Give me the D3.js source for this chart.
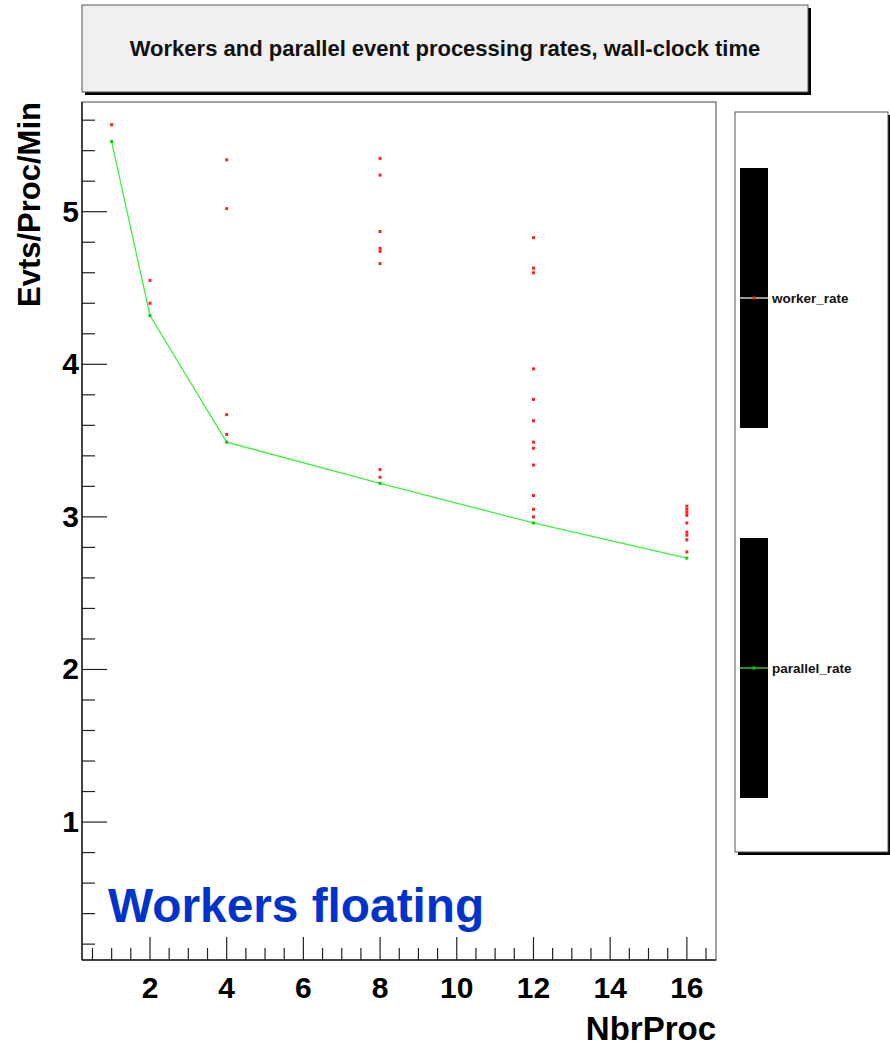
<!DOCTYPE html>
<html>
<head>
<meta charset="utf-8">
<script src="https://cdn.jsdelivr.net/npm/d3@7"></script>
<style>
  body { margin: 0; background: #fff; font-family: "Liberation Sans", Arial, sans-serif; }
</style>
</head>
<body>
<div id="chart"></div>
<script>
'use strict';

// worker rates (red dots) per number of processes
const workerProcs = [1, 2, 2, 4, 4, 4, 4,
    8, 8, 8, 8, 8, 8, 8, 8,
    12, 12, 12, 12, 12, 12, 12, 12, 12, 12, 12, 12,
    16, 16, 16, 16, 16, 16, 16, 16, 16];
const workerRates = [5.57, 4.55, 4.40, 5.34, 5.02, 3.67, 3.54,
    5.35, 5.24, 4.87, 4.76, 4.74, 4.66, 3.31, 3.26,
    4.83, 4.63, 4.60, 3.97, 3.77, 3.63, 3.49, 3.45, 3.34, 3.14, 3.05, 3.00,
    3.07, 3.05, 3.03, 3.01, 2.96, 2.90, 2.88, 2.85, 2.77];

// parallel rate (green line)
const parallelProcs = [1, 2, 4, 8, 12, 16];
const parallelRates = [5.46, 4.32, 3.49, 3.22, 2.96, 2.73];

const xTicks = [2, 4, 6, 8, 10, 12, 14, 16];
const yTicks = [1, 2, 3, 4, 5];
const legendLabels = ["worker_rate", "parallel_rate"];

const width = 890, height = 1048;
const margin = { top: 102, right: 174, bottom: 88, left: 82 };

const svg = d3.select("#chart").append("svg")
    .attr("width", width)
    .attr("height", height);

const x = d3.scaleLinear()
    .domain([0.227, 16.76])
    .range([margin.left, width - margin.right]);

const y = d3.scaleLinear()
    .domain([0.096, 5.719])
    .range([height - margin.bottom, margin.top]);

const plotL = margin.left, plotR = width - margin.right;
const plotT = margin.top, plotB = height - margin.bottom;

// title box with shadow
svg.append("rect").attr("x", 85).attr("y", 8).attr("width", 726).attr("height", 87).attr("fill", "#000");
svg.append("rect").attr("x", 82).attr("y", 5).attr("width", 726).attr("height", 87)
    .attr("fill", "#f0f0f0").attr("stroke", "#555").attr("stroke-width", 1);
svg.append("text")
    .attr("x", 445).attr("y", 56)
    .attr("text-anchor", "middle")
    .attr("font-size", 22).attr("font-weight", "bold")
    .attr("fill", "#111")
    .text("Workers and parallel event processing rates, wall-clock time");

// plot frame
svg.append("rect")
    .attr("x", plotL).attr("y", plotT)
    .attr("width", plotR - plotL).attr("height", plotB - plotT)
    .attr("fill", "none").attr("stroke", "#666").attr("stroke-width", 1.2);

// y ticks (major every 1, minor every 0.2)
const yMinor = d3.range(0.2, 5.7, 0.2).filter(v => y(v) >= plotT && y(v) <= plotB);
svg.append("g").selectAll("line")
    .data(yMinor)
    .join("line")
    .attr("x1", plotL)
    .attr("x2", d => plotL + (Math.abs(d - Math.round(d)) < 0.01 ? 25 : 13))
    .attr("y1", d => y(d)).attr("y2", d => y(d))
    .attr("stroke", "#222").attr("stroke-width", 1.2);

// x ticks (major every 2, minor every 0.5)
const xMinor = d3.range(0.5, 16.6, 0.5);
svg.append("g").selectAll("line")
    .data(xMinor)
    .join("line")
    .attr("x1", d => x(d)).attr("x2", d => x(d))
    .attr("y1", plotB)
    .attr("y2", d => plotB - (Math.abs(d / 2 - Math.round(d / 2)) < 0.01 ? 23 : 12))
    .attr("stroke", "#222").attr("stroke-width", 1.2);

// axis lines
svg.append("line").attr("x1", plotL).attr("x2", plotL).attr("y1", plotT).attr("y2", plotB)
    .attr("stroke", "#222").attr("stroke-width", 1.5);
svg.append("line").attr("x1", plotL).attr("x2", plotR).attr("y1", plotB).attr("y2", plotB)
    .attr("stroke", "#222").attr("stroke-width", 1.5);

// tick labels
svg.append("g").selectAll("text")
    .data(yTicks)
    .join("text")
    .attr("x", 79).attr("y", d => y(d) + 10)
    .attr("text-anchor", "end")
    .attr("font-size", 30).attr("font-weight", "bold")
    .text(d => d);

svg.append("g").selectAll("text")
    .data(xTicks)
    .join("text")
    .attr("x", d => x(d)).attr("y", 998)
    .attr("text-anchor", "middle")
    .attr("font-size", 30).attr("font-weight", "bold")
    .text(d => d);

// axis titles
svg.append("text")
    .attr("transform", `translate(40, ${plotT}) rotate(-90)`)
    .attr("text-anchor", "end")
    .attr("font-size", 31).attr("font-weight", "bold")
    .text("Evts/Proc/Min");

svg.append("text")
    .attr("x", plotR).attr("y", 1040)
    .attr("text-anchor", "end")
    .attr("font-size", 33).attr("font-weight", "bold")
    .text("NbrProc");

// green parallel line
const parData = parallelProcs.map((p, i) => [p, parallelRates[i]]);
svg.append("path")
    .datum(parData)
    .attr("fill", "none")
    .attr("stroke", "#3ef03e").attr("stroke-width", 1.3)
    .attr("d", d3.line().x(d => x(d[0])).y(d => y(d[1])));

svg.append("g").selectAll("rect")
    .data(parData)
    .join("rect")
    .attr("x", d => x(d[0]) - 1.5).attr("y", d => y(d[1]) - 1.5)
    .attr("width", 3).attr("height", 3)
    .attr("fill", "#00d000");

// red worker dots
svg.append("g").selectAll("rect")
    .data(workerProcs.map((p, i) => [p, workerRates[i]]))
    .join("rect")
    .attr("x", d => x(d[0]) - 1.5).attr("y", d => y(d[1]) - 1.5)
    .attr("width", 3).attr("height", 3)
    .attr("fill", "#ff2020");

// annotation
svg.append("text")
    .attr("x", 108).attr("y", 922)
    .attr("font-size", 47.8).attr("font-weight", "bold")
    .attr("fill", "#0033cc")
    .text("Workers floating");

// legend box with shadow
svg.append("rect").attr("x", 738).attr("y", 115).attr("width", 153).attr("height", 740).attr("fill", "#000");
svg.append("rect").attr("x", 735).attr("y", 112).attr("width", 153).attr("height", 740)
    .attr("fill", "#fff").attr("stroke", "#555").attr("stroke-width", 1);

const legendColors = ["#ff2020", "#00d000"];
const legendLine = ["#fff", "#3ef03e"];
const legendTop = [168, 538];
legendLabels.forEach((lab, i) => {
    const t = legendTop[i];
    const mid = t + 130;
    svg.append("rect").attr("x", 740).attr("y", t).attr("width", 28).attr("height", 260).attr("fill", "#000");
    svg.append("line").attr("x1", 740).attr("x2", 768).attr("y1", mid).attr("y2", mid)
        .attr("stroke", legendLine[i]).attr("stroke-width", 1.2);
    svg.append("rect").attr("x", 752.5).attr("y", mid - 1.5).attr("width", 3).attr("height", 3)
        .attr("fill", legendColors[i]);
    svg.append("text").attr("x", 772).attr("y", mid + 4.5)
        .attr("font-size", 13.5).attr("font-weight", "bold")
        .attr("fill", "#111")
        .text(lab);
});
</script>
</body>
</html>
